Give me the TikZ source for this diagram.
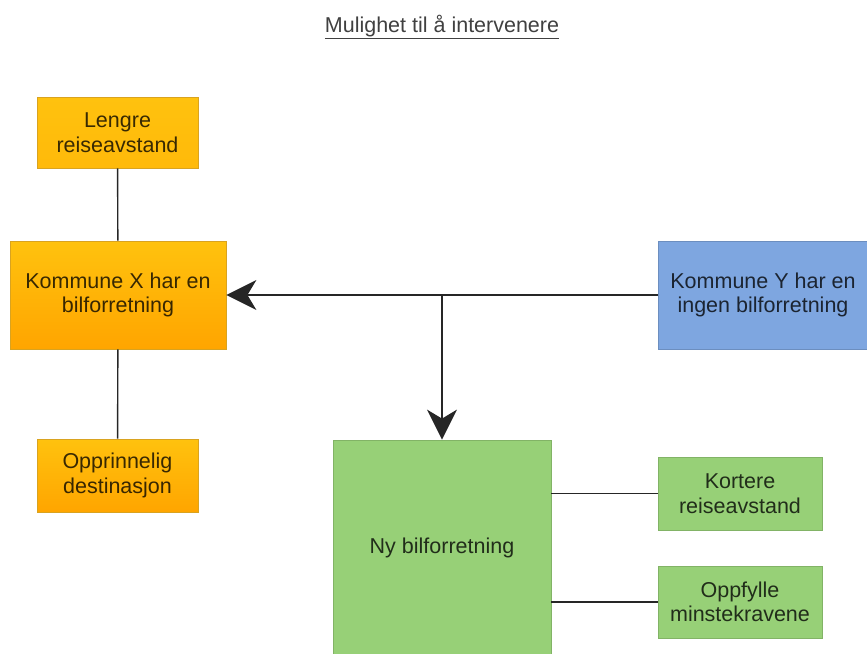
\documentclass[tikz,border=0pt]{standalone}
\usepackage{fontspec}
\setmainfont{Liberation Sans}
\usetikzlibrary{arrows.meta}
\definecolor{orA}{HTML}{FFC20E}
\definecolor{orB}{HTML}{FFA500}
\definecolor{orD}{HTML}{D9A320}
\definecolor{grF}{HTML}{97D077}
\definecolor{grD}{HTML}{82B366}
\definecolor{blF}{HTML}{7EA6E0}
\definecolor{blD}{HTML}{6C8EBF}
\tikzset{
  box/.style={draw, line width=0.8pt, align=center, inner sep=0pt, font=\fontsize{21.5}{24.5}\selectfont, text opacity=0.78},
  orbox/.style={box, draw=orD, top color=orA, bottom color=orA!70!orB},
  orgrad/.style={box, draw=orD, top color=orA, bottom color=orB},
  grbox/.style={box, draw=grD, fill=grF},
  blbox/.style={box, draw=blD, fill=blF},
  conn/.style={draw=black!85, line width=1.4pt},
  bigtip/.style={-{Stealth[length=30pt, width=30pt, inset=9pt]}}
}
\begin{document}
\begin{tikzpicture}[x=1pt, y=-1pt]
\useasboundingbox (0,0) rectangle (867,653);
\node[font=\fontsize{21.5}{24}\selectfont, text=black!75] (title) at (442,27) {\underline{Mulighet til å intervenere}};
\node[orbox, minimum width=161pt, minimum height=71pt] (lengre) at (117.5,132.5) {Lengre\\reiseavstand};
\node[orgrad, minimum width=216pt, minimum height=108pt] (kx) at (118,295) {Kommune X har en\\bilforretning};
\node[orgrad, minimum width=161pt, minimum height=73pt] (oppr) at (117.5,475.5) {Opprinnelig\\destinasjon};
\node[blbox, minimum width=209pt, minimum height=108pt] (ky) at (763,295) {Kommune Y har en\\ingen bilforretning};
\node[grbox, minimum width=218pt, minimum height=216pt] (ny) at (442,548) {Ny bilforretning};
\node[grbox, minimum width=164pt, minimum height=73pt] (kort) at (740,493.5) {Kortere\\reiseavstand};
\node[grbox, minimum width=164pt, minimum height=72pt] (oppf) at (740,602) {Oppfylle\\minstekravene};
\coordinate (branch) at (442,295);
\draw[conn] (lengre) -- (kx);
\draw[conn] (kx) -- (oppr);
\draw[conn, bigtip] (ky) -- (kx);
\draw[conn, bigtip] (branch) -- (ny);
\draw[conn] (ny.east |- kort) -- (kort);
\draw[conn] (ny.east |- oppf) -- (oppf);
\end{tikzpicture}
\end{document}
